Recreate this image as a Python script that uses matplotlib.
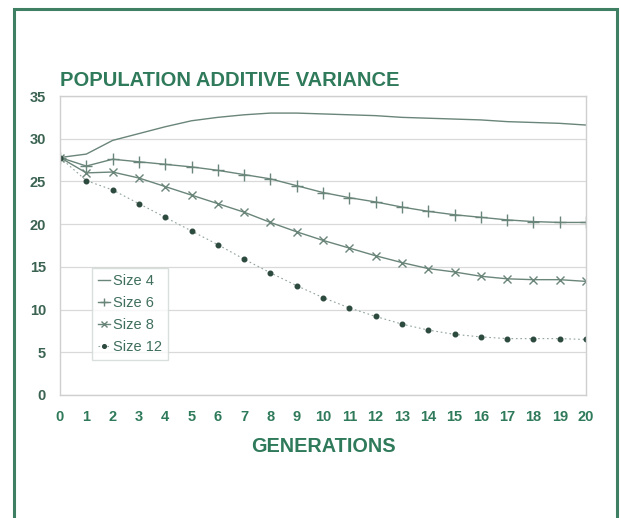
import matplotlib
matplotlib.use("Agg")
import matplotlib.pyplot as plt
from matplotlib.patches import Rectangle

plt.rcParams["font.family"] = ["Liberation Sans", "DejaVu Sans"]

generations = list(range(21))
size4  = [27.8, 28.2, 29.8, 30.6, 31.4, 32.1, 32.5, 32.8, 33.0, 33.0, 32.9,
          32.8, 32.7, 32.5, 32.4, 32.3, 32.2, 32.0, 31.9, 31.8, 31.6]
size6  = [27.8, 26.8, 27.6, 27.3, 27.0, 26.7, 26.3, 25.8, 25.3, 24.5, 23.7,
          23.1, 22.6, 22.0, 21.5, 21.1, 20.8, 20.5, 20.3, 20.2, 20.2]
size8  = [27.8, 26.0, 26.1, 25.4, 24.4, 23.4, 22.4, 21.4, 20.2, 19.1, 18.1,
          17.2, 16.3, 15.5, 14.8, 14.4, 13.9, 13.6, 13.5, 13.5, 13.3]
size12 = [27.8, 25.1, 24.0, 22.4, 20.8, 19.2, 17.6, 15.9, 14.3, 12.8, 11.4,
          10.2, 9.2, 8.3, 7.6, 7.1, 6.8, 6.6, 6.6, 6.6, 6.5]
labels = ["Size 4", "Size 6", "Size 8", "Size 12"]

GREEN = "#2f7a5a"
LINE = "#6a857a"

fig = plt.figure(figsize=(6.21, 5.18), dpi=100)
fig.patches.append(Rectangle((14 / 621, -0.01), (617 - 14) / 621, 1 - 9 / 518 + 0.01,
                             transform=fig.transFigure, fill=False,
                             edgecolor="#3f7f63", lw=2.2))
ax = fig.add_axes([60 / 621, 123 / 518, 526 / 621, 299 / 518])

ax.plot(generations, size4, color=LINE, lw=1.0, label=labels[0])
ax.plot(generations, size6, color=LINE, lw=1.0, marker="+", ms=8, mew=1.0, label=labels[1])
ax.plot(generations, size8, color=LINE, lw=1.0, marker="x", ms=6, mew=1.0, label=labels[2])
ax.plot(generations, size12, color="#8fa39a", lw=0.8, ls=(0, (1.5, 2.5)), marker="o", ms=3.3,
        mfc="#2d4a3f", mec="#2d4a3f", label=labels[3])

ax.set_xlim(0, 20)
ax.set_ylim(0, 35)
ax.set_xticks(generations)
ax.set_yticks(range(0, 36, 5))
ax.tick_params(length=0, pad=10, labelsize=10.5, colors="#3b6352")
for t in ax.get_xticklabels() + ax.get_yticklabels():
    t.set_fontweight("bold")
ax.tick_params(axis="x", colors=GREEN, pad=11)
ax.grid(axis="y", color="#d9d9d9", lw=0.9)
ax.set_axisbelow(True)
for s in ax.spines.values():
    s.set_color("#cfcfcf")
    s.set_linewidth(1.0)

ax.set_xlabel("GENERATIONS", fontsize=14.3, fontweight="bold", color=GREEN, labelpad=9)
fig.text(60 / 621, 1 - 80 / 518, "POPULATION ADDITIVE VARIANCE", fontsize=14.5,
         fontweight="bold", color=GREEN, va="center", ha="left")

leg = ax.legend(loc="upper left", bbox_to_anchor=(32 / 526, (395 - 268) / 299),
                frameon=True, fancybox=False, fontsize=10.5, handlelength=0.8,
                handletextpad=0.25, borderpad=0.4, labelspacing=0.55, borderaxespad=0,
                markerscale=0.8)
leg.get_frame().set_edgecolor("#cfd8d4")
leg.get_frame().set_linewidth(1.0)
for t in leg.get_texts():
    t.set_color("#3f6f5c")

fig.savefig("out.png", dpi=100, facecolor="white")
